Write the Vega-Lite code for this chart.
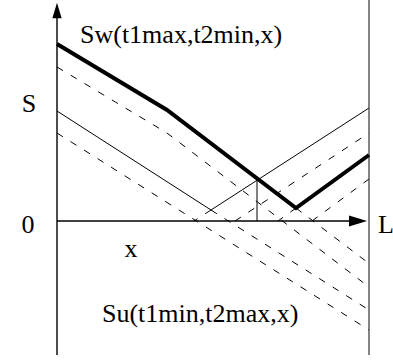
{
  "$schema": "https://vega.github.io/schema/vega-lite/v6.json",
  "width": 393,
  "height": 362,
  "padding": 0,
  "autosize": {"type": "none"},
  "background": "white",
  "config": {"view": {"stroke": null}},
  "datasets": {
    "lines": [
      {"seg": "Sw", "kind": "thick", "o": 0, "x": 0, "y": 177},
      {"seg": "Sw", "kind": "thick", "o": 1, "x": 110, "y": 111},
      {"seg": "Sw", "kind": "thick", "o": 2, "x": 239, "y": 13},
      {"seg": "Sw", "kind": "thick", "o": 3, "x": 312, "y": 66},
      {"seg": "Tdesc", "kind": "thin", "o": 0, "x": 0, "y": 110},
      {"seg": "Tdesc", "kind": "thin", "o": 1, "x": 154, "y": 11},
      {"seg": "Trise", "kind": "thin", "o": 0, "x": 154, "y": 11},
      {"seg": "Trise", "kind": "thin", "o": 1, "x": 312, "y": 113},
      {"seg": "Tvert", "kind": "thin", "o": 0, "x": 200, "y": 42},
      {"seg": "Tvert", "kind": "thin", "o": 1, "x": 200, "y": 0},
      {"seg": "Yaxis", "kind": "axis", "o": 0, "x": 0, "y": 205},
      {"seg": "Yaxis", "kind": "axis", "o": 1, "x": 0, "y": -134},
      {"seg": "Xaxis", "kind": "axis", "o": 0, "x": 0, "y": 0},
      {"seg": "Xaxis", "kind": "axis", "o": 1, "x": 300, "y": 0},
      {"seg": "Redge", "kind": "edge", "o": 0, "x": 312, "y": 221},
      {"seg": "Redge", "kind": "edge", "o": 1, "x": 312, "y": -134},
      {"seg": "D1", "kind": "dashed", "o": 0, "x": 0, "y": 154},
      {"seg": "D1", "kind": "dashed", "o": 1, "x": 110, "y": 88},
      {"seg": "D1", "kind": "dashed", "o": 2, "x": 312, "y": -66},
      {"seg": "E1", "kind": "dashed", "o": 0, "x": 239, "y": 13},
      {"seg": "E1", "kind": "dashed", "o": 1, "x": 312, "y": -42.5},
      {"seg": "E2", "kind": "dashed", "o": 0, "x": 154, "y": 11},
      {"seg": "E2", "kind": "dashed", "o": 1, "x": 312, "y": -89},
      {"seg": "D2", "kind": "dashed", "o": 0, "x": 0, "y": 88},
      {"seg": "D2", "kind": "dashed", "o": 1, "x": 312, "y": -109},
      {"seg": "E3", "kind": "dashed", "o": 0, "x": 154, "y": 11},
      {"seg": "E3", "kind": "dashed", "o": 1, "x": 137, "y": 0},
      {"seg": "R2", "kind": "dashed", "o": 0, "x": 178, "y": 0},
      {"seg": "R2", "kind": "dashed", "o": 1, "x": 312, "y": 88},
      {"seg": "E4", "kind": "dashed", "o": 0, "x": 239, "y": 13},
      {"seg": "E4", "kind": "dashed", "o": 1, "x": 221, "y": 0},
      {"seg": "R3", "kind": "dashed", "o": 0, "x": 255, "y": 0},
      {"seg": "R3", "kind": "dashed", "o": 1, "x": 312, "y": 42}
    ],
    "labels": [
      {"label": "Sw(t1max,t2min,x)", "pos": "left", "x": 23, "y": 178},
      {"label": "Su(t1min,t2max,x)", "pos": "left", "x": 45, "y": -101},
      {"label": "L", "pos": "left", "x": 321, "y": -12},
      {"label": "S", "pos": "center", "x": -28, "y": 109},
      {"label": "0", "pos": "center", "x": -29, "y": -12},
      {"label": "x", "pos": "center", "x": 74, "y": -36}
    ]
  },
  "layer": [
    {
      "data": {"name": "lines"},
      "transform": [{"filter": "datum.kind === 'dashed'"}],
      "mark": {"type": "line", "color": "black", "strokeWidth": 1, "strokeDash": [7, 9]},
      "encoding": {
        "x": {"field": "x", "type": "quantitative", "scale": {"domain": [-57, 336], "nice": false, "zero": false}, "axis": null},
        "y": {"field": "y", "type": "quantitative", "scale": {"domain": [-141, 221], "nice": false, "zero": false}, "axis": null},
        "detail": {"field": "seg"},
        "order": {"field": "o"}
      }
    },
    {
      "data": {"name": "lines"},
      "transform": [{"filter": "datum.kind === 'thin'"}],
      "mark": {"type": "line", "color": "black", "strokeWidth": 1},
      "encoding": {
        "x": {"field": "x", "type": "quantitative"},
        "y": {"field": "y", "type": "quantitative"},
        "detail": {"field": "seg"},
        "order": {"field": "o"}
      }
    },
    {
      "data": {"name": "lines"},
      "transform": [{"filter": "datum.kind === 'axis'"}],
      "mark": {"type": "line", "color": "black", "strokeWidth": 1.4},
      "encoding": {
        "x": {"field": "x", "type": "quantitative"},
        "y": {"field": "y", "type": "quantitative"},
        "detail": {"field": "seg"},
        "order": {"field": "o"}
      }
    },
    {
      "data": {"name": "lines"},
      "transform": [{"filter": "datum.kind === 'edge'"}],
      "mark": {"type": "line", "color": "#333333", "strokeWidth": 1.2},
      "encoding": {
        "x": {"field": "x", "type": "quantitative"},
        "y": {"field": "y", "type": "quantitative"},
        "detail": {"field": "seg"},
        "order": {"field": "o"}
      }
    },
    {
      "data": {"name": "lines"},
      "transform": [{"filter": "datum.kind === 'thick'"}],
      "mark": {"type": "line", "color": "black", "strokeWidth": 4, "strokeJoin": "miter"},
      "encoding": {
        "x": {"field": "x", "type": "quantitative"},
        "y": {"field": "y", "type": "quantitative"},
        "detail": {"field": "seg"},
        "order": {"field": "o"}
      }
    },
    {
      "data": {"values": [{"x": 0, "y": 210.5}]},
      "mark": {"type": "point", "shape": "M0,-1L0.6,1L-0.6,1Z", "size": 240, "filled": true, "color": "black", "opacity": 1},
      "encoding": {
        "x": {"field": "x", "type": "quantitative"},
        "y": {"field": "y", "type": "quantitative"}
      }
    },
    {
      "data": {"values": [{"x": 301, "y": 0}]},
      "mark": {"type": "point", "shape": "M1,0L-1,-0.6L-1,0.6Z", "size": 324, "filled": true, "color": "black", "opacity": 1},
      "encoding": {
        "x": {"field": "x", "type": "quantitative"},
        "y": {"field": "y", "type": "quantitative"}
      }
    },
    {
      "data": {"name": "labels"},
      "transform": [{"filter": "datum.pos === 'left'"}],
      "mark": {"type": "text", "font": "Liberation Serif", "fontSize": 26, "align": "left", "baseline": "alphabetic", "color": "black"},
      "encoding": {
        "x": {"field": "x", "type": "quantitative"},
        "y": {"field": "y", "type": "quantitative"},
        "text": {"field": "label"}
      }
    },
    {
      "data": {"name": "labels"},
      "transform": [{"filter": "datum.pos === 'center'"}],
      "mark": {"type": "text", "font": "Liberation Serif", "fontSize": 26, "align": "center", "baseline": "alphabetic", "color": "black"},
      "encoding": {
        "x": {"field": "x", "type": "quantitative"},
        "y": {"field": "y", "type": "quantitative"},
        "text": {"field": "label"}
      }
    }
  ]
}
